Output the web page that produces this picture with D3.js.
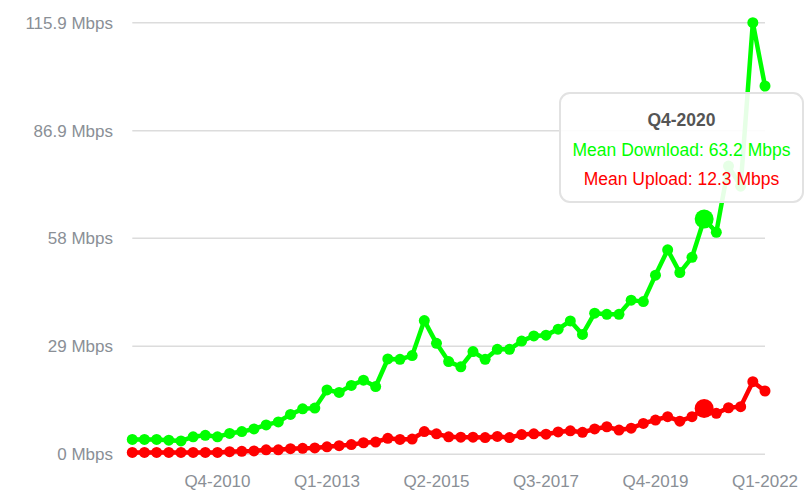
<!DOCTYPE html>
<html>
<head>
<meta charset="utf-8">
<script src="https://cdn.jsdelivr.net/npm/d3@7"></script>
<style>
  body { margin: 0; background: #fff; }
  svg { display: block; font-family: "Liberation Sans", Arial, sans-serif; }
</style>
</head>
<body>
<svg id="chart" width="811" height="504"></svg>
<script>
// quarters, Q1-2009 .. Q1-2022
var quarters = [
  "Q1-2009","Q2-2009","Q3-2009","Q4-2009","Q1-2010","Q2-2010","Q3-2010","Q4-2010",
  "Q1-2011","Q2-2011","Q3-2011","Q4-2011","Q1-2012","Q2-2012","Q3-2012","Q4-2012",
  "Q1-2013","Q2-2013","Q3-2013","Q4-2013","Q1-2014","Q2-2014","Q3-2014","Q4-2014",
  "Q1-2015","Q2-2015","Q3-2015","Q4-2015","Q1-2016","Q2-2016","Q3-2016","Q4-2016",
  "Q1-2017","Q2-2017","Q3-2017","Q4-2017","Q1-2018","Q2-2018","Q3-2018","Q4-2018",
  "Q1-2019","Q2-2019","Q3-2019","Q4-2019","Q1-2020","Q2-2020","Q3-2020","Q4-2020",
  "Q1-2021","Q2-2021","Q3-2021","Q4-2021","Q1-2022"
];

var download = [
  4.0, 4.0, 4.0, 3.8, 3.6, 4.7, 5.1, 4.7, 5.6, 6.1, 6.8, 7.9, 8.7, 10.7, 12.2, 12.4,
  17.3, 16.6, 18.5, 19.9, 18.2, 25.6, 25.5, 26.5, 35.9, 29.8, 24.9, 23.5, 27.6, 25.5,
  28.2, 28.2, 30.4, 31.8, 32.0, 33.6, 35.8, 32.2, 37.9, 37.6, 37.6, 41.4, 41.0, 48.1,
  54.9, 48.8, 52.9, 63.2, 59.6, 77.4, 72.0, 115.9, 98.9
];

var upload = [
  0.5, 0.5, 0.5, 0.5, 0.5, 0.5, 0.5, 0.5, 0.7, 0.8, 0.9, 1.2, 1.2, 1.5, 1.6, 1.7,
  2.0, 2.3, 2.6, 3.1, 3.3, 4.3, 4.0, 4.1, 6.1, 5.5, 4.7, 4.6, 4.6, 4.5,
  4.8, 4.5, 5.3, 5.5, 5.4, 6.0, 6.3, 5.9, 6.8, 7.4, 6.5, 7.0, 8.3, 9.2,
  10.1, 8.9, 10.1, 12.3, 11.0, 12.5, 12.8, 19.5, 17.0
];

var yTicks = [0, 29, 58, 86.9, 115.9];
var xTickLabels = ["Q4-2010", "Q1-2013", "Q2-2015", "Q3-2017", "Q4-2019", "Q1-2022"];
var hovered = "Q4-2020";

var dlColor = "#00ff00";
var upColor = "#ff0000";

var svg = d3.select("#chart");

var x = d3.scalePoint().domain(quarters).range([132.3, 765]);
var y = d3.scaleLinear().domain([0, 115.9]).range([454.3, 22.7]);

// grid
svg.selectAll("line.grid").data(yTicks).enter().append("line")
  .attr("class", "grid")
  .attr("x1", x.range()[0])
  .attr("x2", x.range()[1])
  .attr("y1", function(d) { return y(d); })
  .attr("y2", function(d) { return y(d); })
  .attr("stroke", "#dcdcdc")
  .attr("stroke-width", 1.5);

svg.selectAll("text.ylab").data(yTicks).enter().append("text")
  .attr("class", "ylab")
  .attr("x", 113)
  .attr("y", function(d) { return y(d); })
  .attr("dy", "0.35em")
  .attr("text-anchor", "end")
  .attr("fill", "#8a8f96")
  .style("font-size", "17px")
  .text(function(d) { return d + " Mbps"; });

svg.selectAll("text.xlab").data(xTickLabels).enter().append("text")
  .attr("class", "xlab")
  .attr("x", function(d) { return x(d); })
  .attr("y", 481)
  .attr("dy", "0.35em")
  .attr("text-anchor", "middle")
  .attr("fill", "#8a8f96")
  .style("font-size", "17px")
  .text(function(d) { return d; });

function drawSeries(values, color) {
  var pts = quarters.map(function(q, i) { return { q: q, v: values[i] }; });
  var line = d3.line()
    .x(function(d) { return x(d.q); })
    .y(function(d) { return y(d.v); });

  svg.append("path")
    .datum(pts)
    .attr("d", line)
    .attr("fill", "none")
    .attr("stroke", color)
    .attr("stroke-width", 4.5)
    .attr("stroke-linejoin", "round");

  svg.append("g").selectAll("circle").data(pts).enter().append("circle")
    .attr("cx", function(d) { return x(d.q); })
    .attr("cy", function(d) { return y(d.v); })
    .attr("r", function(d) { return d.q === hovered ? 9.5 : 5.5; })
    .attr("fill", color);
}

drawSeries(download, dlColor);
drawSeries(upload, upColor);

// tooltip
var hi = quarters.indexOf(hovered);
var tip = svg.append("g");
tip.append("rect")
  .attr("x", 560).attr("y", 93)
  .attr("width", 243).attr("height", 109)
  .attr("rx", 10).attr("ry", 10)
  .attr("fill", "rgba(255,255,255,0.9)")
  .attr("stroke", "#e2e2e2")
  .attr("stroke-width", 2);

var tipX = 681.5;
tip.append("text")
  .attr("x", tipX).attr("y", 120).attr("dy", "0.35em")
  .attr("text-anchor", "middle")
  .attr("fill", "#555")
  .style("font-size", "17.5px")
  .style("font-weight", "bold")
  .text(hovered);

tip.append("text")
  .attr("x", tipX).attr("y", 150).attr("dy", "0.35em")
  .attr("text-anchor", "middle")
  .attr("fill", dlColor)
  .style("font-size", "17.5px")
  .text("Mean Download: " + download[hi] + " Mbps");

tip.append("text")
  .attr("x", tipX).attr("y", 178.5).attr("dy", "0.35em")
  .attr("text-anchor", "middle")
  .attr("fill", upColor)
  .style("font-size", "17.5px")
  .text("Mean Upload: " + upload[hi] + " Mbps");
</script>
</body>
</html>
